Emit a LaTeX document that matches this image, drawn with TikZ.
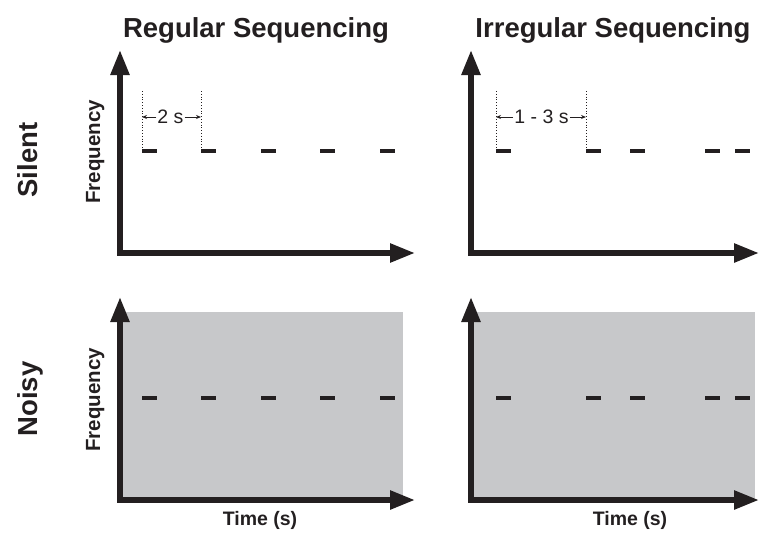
\documentclass[tikz,border=0pt]{standalone}
\usepackage{fontspec}
\setmainfont{Liberation Sans}
\usetikzlibrary{arrows.meta}
\definecolor{noisegray}{RGB}{199,200,202}
\definecolor{ink}{RGB}{35,31,32}
\tikzset{
  x=1pt, y=-1pt,
  axis/.style={draw=ink, line width=5.5pt, -{Triangle[length=25pt,width=18pt]}},
  tone/.style={draw=ink, line width=3.5pt},
  guide/.style={draw=ink, line width=0.8pt, dotted},
  gap/.style={draw=ink, line width=0.9pt, -{Stealth[length=5pt,width=4pt]}},
  title/.style={font=\bfseries\fontsize{27.5}{30}\selectfont, text=ink, anchor=base},
  rowlab/.style={font=\bfseries\fontsize{27.5}{30}\selectfont, text=ink, anchor=base, rotate=90},
  ylab/.style={font=\bfseries\fontsize{20.5}{24}\selectfont, text=ink, anchor=base, rotate=90},
  xlab/.style={font=\bfseries\fontsize{19.5}{23}\selectfont, text=ink, anchor=base},
  gaplab/.style={font=\fontsize{19.5}{22}\selectfont, text=ink, inner sep=1pt}
}
\begin{document}
\begin{tikzpicture}
\useasboundingbox (0,0) rectangle (760,539);
% titles
\node[title] (t1) at (256,37) {Regular Sequencing};
\node[title] (t2) at (613,37) {Irregular Sequencing};
\node[rowlab] (r1) at (37,160) {Silent};
\node[rowlab] (r2) at (37,399) {Noisy};
\node[ylab] (f1) at (100,152) {Frequency};
\node[ylab] (f2) at (100,400) {Frequency};
\node[xlab] (x1) at (260,525) {Time (s)};
\node[xlab] (x2) at (630,525) {Time (s)};
% gray backgrounds
\fill[noisegray] (120,312) rectangle (403,500);
\fill[noisegray] (471,312) rectangle (755,500);
% axes coordinates
\coordinate (o1) at (120,253); \coordinate (y1) at (120,50); \coordinate (e1) at (415,253);
\coordinate (o2) at (471,253); \coordinate (y2) at (471,50); \coordinate (e2) at (759,253);
\coordinate (o3) at (120,500); \coordinate (y3) at (120,297); \coordinate (e3) at (415,500);
\coordinate (o4) at (471,500); \coordinate (y4) at (471,297); \coordinate (e4) at (759,500);
\foreach \o/\y/\e in {o1/y1/e1,o2/y2/e2,o3/y3/e3,o4/y4/e4}{
  \draw[axis] ([yshift=-2.75pt]\o) -- (\y);
  \draw[axis] ([xshift=-2.75pt]\o) -- (\e);
}
% tones
\foreach \a in {142,201,261,320,380}{
  \draw[tone] (\a,151) -- ++(15,0);
  \draw[tone] (\a,398) -- ++(15,0);
}
\foreach \a in {496,586,630,705,735}{
  \draw[tone] (\a,151) -- ++(15,0);
  \draw[tone] (\a,398) -- ++(15,0);
}
% interval markers
\coordinate (a1) at (142,91); \coordinate (a1b) at (142,151);
\coordinate (b1) at (201,91); \coordinate (b1b) at (201,151);
\draw[guide] (a1) -- (a1b);
\draw[guide] (b1) -- (b1b);
\node[gaplab] (g1) at (170.5,117) {2 s};
\draw[gap] (g1.west) -- (g1.west -| a1);
\draw[gap] (g1.east) -- (g1.east -| b1);
\coordinate (a2) at (496,91); \coordinate (a2b) at (496,151);
\coordinate (b2) at (586,91); \coordinate (b2b) at (586,151);
\draw[guide] (a2) -- (a2b);
\draw[guide] (b2) -- (b2b);
\node[gaplab] (g2) at (541.5,117) {1 - 3 s};
\draw[gap] (g2.west) -- (g2.west -| a2);
\draw[gap] (g2.east) -- (g2.east -| b2);
\end{tikzpicture}
\end{document}
